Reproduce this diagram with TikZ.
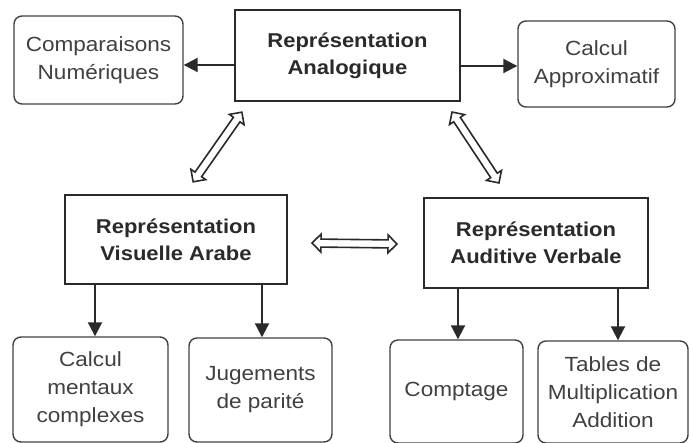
\documentclass[tikz,border=0pt]{standalone}
\usepackage{fontspec}
\setmainfont{Liberation Sans}[FakeStretch=1.1]
\usetikzlibrary{arrows.meta,shapes.arrows}
\definecolor{ink}{HTML}{2A2A2A}
\definecolor{soft}{HTML}{404040}
\begin{document}
\begin{tikzpicture}[x=1pt,y=-1pt,
  mainbox/.style={draw=ink, line width=2pt, inner sep=0pt, align=center, text=ink,
    font=\fontsize{20}{27}\selectfont\bfseries},
  leafbox/.style={draw=soft, line width=1.4pt, rounded corners=8pt, inner sep=0pt, align=center, text=soft,
    font=\fontsize{20.5}{28}\selectfont},
  arr/.style={draw=ink, line width=2pt, -{Triangle[length=14pt,width=14pt]}},
  dbl/.style={double arrow, draw=ink, line width=1.6pt, fill=white, inner sep=3.2pt,
    double arrow head extend=5pt, minimum height=85pt},
  ]
\useasboundingbox (0,0) rectangle (689,443);
% main boxes
\node[mainbox, minimum width=225pt, minimum height=91pt] (A) at (347.5,55.5) {Représentation\\Analogique};
\node[mainbox, minimum width=222pt, minimum height=89pt] (V) at (176,239.5) {Représentation\\Visuelle Arabe};
\node[mainbox, minimum width=224pt, minimum height=90pt] (W) at (536,243) {Représentation\\Auditive Verbale};
% leaf boxes
\node[leafbox, minimum width=169pt, minimum height=88pt] (C) at (98.5,60) {Comparaisons\\Numériques};
\node[leafbox, minimum width=157pt, minimum height=86pt] (P) at (596.5,64) {Calcul\\Approximatif};
\node[leafbox, minimum width=155pt, minimum height=105pt] (M) at (90.5,389.5) {Calcul\\mentaux\\complexes};
\node[leafbox, minimum width=143pt, minimum height=104pt] (J) at (260.5,390) {Jugements\\de parité};
\node[leafbox, minimum width=133pt, minimum height=103pt] (K) at (456.5,391.5) {Comptage};
\node[leafbox, minimum width=150pt, minimum height=102pt] (T) at (613,392) {Tables de\\Multiplication\\Addition};
% simple arrows
\draw[arr] (A.west |- 0,65) -- (C.east |- 0,65);
\draw[arr] (A.east |- 0,66) -- (P.west |- 0,66);
\draw[arr] (V.south -| 95,0) -- (M.north -| 95,0);
\draw[arr] (V.south -| 262,0) -- (J.north -| 262,0);
\draw[arr] (W.south -| 458,0) -- (K.north -| 458,0);
\draw[arr] (W.south -| 618,0) -- (T.north -| 618,0);
% double hollow arrows
\coordinate (a1) at (242,112);
\coordinate (a2) at (193,182);
\coordinate (b1) at (452,112);
\coordinate (b2) at (499,183);
\coordinate (c1) at (312,243);
\coordinate (c2) at (397,244);
\path (a2) -- (a1) node[dbl, midway, sloped] (d1) {};
\path (b1) -- (b2) node[dbl, midway, sloped] (d2) {};
\path (c1) -- (c2) node[dbl, midway, sloped] (d3) {};
\end{tikzpicture}
\end{document}
